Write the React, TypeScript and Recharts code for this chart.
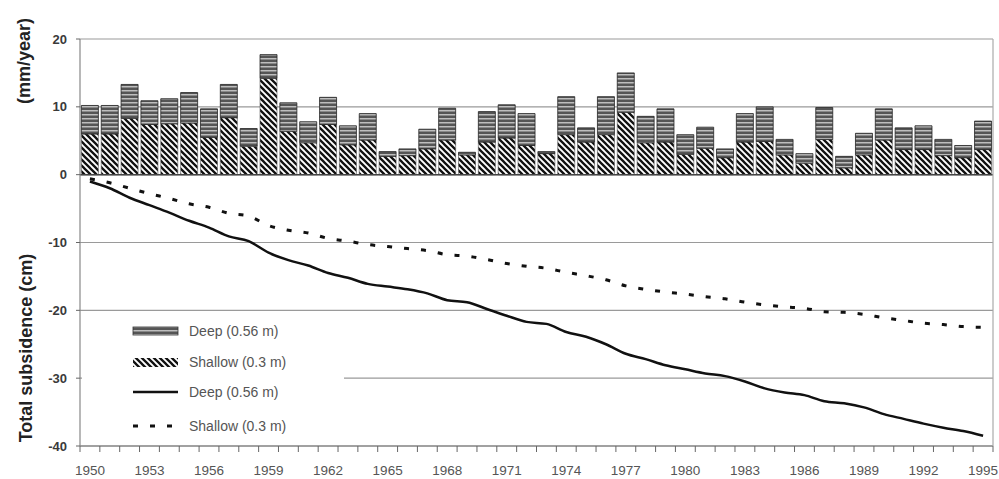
import React from 'react';
import { ComposedChart, Bar, Line, XAxis, YAxis, CartesianGrid, ReferenceLine, Legend } from 'recharts';

const years = [
  '1950', '1951', '1952', '1953', '1954', '1955', '1956', '1957', '1958', '1959',
  '1960', '1961', '1962', '1963', '1964', '1965', '1966', '1967', '1968', '1969',
  '1970', '1971', '1972', '1973', '1974', '1975', '1976', '1977', '1978', '1979',
  '1980', '1981', '1982', '1983', '1984', '1985', '1986', '1987', '1988', '1989',
  '1990', '1991', '1992', '1993', '1994', '1995',
];

// annual subsidence rate (mm/year), shallow layer (0.3 m) – lower hatched segment
const shallowRate = [
  6.0, 6.0, 8.3, 7.4, 7.5, 7.6, 5.5, 8.4, 4.2, 14.2,
  6.4, 4.7, 7.4, 4.4, 5.1, 2.7, 2.8, 3.8, 5.1, 2.9,
  4.8, 5.4, 4.3, 3.1, 5.9, 4.8, 5.9, 9.2, 4.7, 4.8,
  3.0, 3.9, 2.5, 4.8, 4.9, 2.9, 1.7, 5.2, 1.0, 2.9,
  5.1, 3.7, 3.7, 2.8, 2.5, 3.7,
];

// annual subsidence rate (mm/year), deep layer (0.56 m) – upper striped segment
const deepRate = [
  4.2, 4.2, 5.0, 3.5, 3.7, 4.5, 4.2, 4.9, 2.6, 3.5,
  4.2, 3.1, 4.0, 2.8, 3.9, 0.7, 1.0, 2.9, 4.7, 0.4,
  4.5, 4.9, 4.7, 0.3, 5.6, 2.1, 5.6, 5.8, 3.9, 4.9,
  2.9, 3.1, 1.3, 4.2, 5.1, 2.3, 1.4, 4.7, 1.7, 3.2,
  4.6, 3.2, 3.5, 2.4, 1.8, 4.2,
];

// total subsidence (cm), deep (0.56 m) – solid line
const deepTotal = [
  -1.0, -2.0, -3.4, -4.5, -5.6, -6.8, -7.8, -9.1, -9.8, -11.5,
  -12.6, -13.4, -14.5, -15.2, -16.1, -16.5, -16.9, -17.5, -18.5, -18.8,
  -19.8, -20.8, -21.7, -22.0, -23.2, -23.9, -25.0, -26.4, -27.2, -28.1,
  -28.7, -29.3, -29.7, -30.5, -31.5, -32.1, -32.5, -33.4, -33.7, -34.3,
  -35.3, -36.0, -36.7, -37.3, -37.8, -38.5,
];

// total subsidence (cm), shallow (0.3 m) – dotted line
const shallowTotal = [
  -0.6, -1.2, -2.0, -2.8, -3.5, -4.3, -4.8, -5.7, -6.1, -7.5,
  -8.2, -8.6, -9.4, -9.8, -10.3, -10.6, -10.9, -11.2, -11.8, -12.0,
  -12.5, -13.1, -13.5, -13.8, -14.4, -14.9, -15.5, -16.4, -16.9, -17.3,
  -17.6, -18.0, -18.3, -18.8, -19.2, -19.5, -19.7, -20.2, -20.3, -20.6,
  -21.1, -21.5, -21.9, -22.1, -22.4, -22.5,
];

const yTicks = [-40, -30, -20, -10, 0, 10, 20];
const labeledYears = ['1950', '1953', '1956', '1959', '1962', '1965', '1968', '1971', '1974', '1977', '1980', '1983', '1986', '1989', '1992', '1995'];

const data = years.map((year, i) => ({
  year,
  shallow: shallowRate[i],
  deep: deepRate[i],
  deepCum: deepTotal[i],
  shallowCum: shallowTotal[i],
}));

const FONT = '"Liberation Sans", Arial, Helvetica, sans-serif';
const PLOT_LEFT = 80;
const PLOT_RIGHT = 993;
const PITCH = (PLOT_RIGHT - PLOT_LEFT) / years.length;

function XTick(props: any) {
  const { x, y, payload, index } = props;
  const left = x - PITCH / 2;
  const right = x + PITCH / 2;
  const isLast = index === years.length - 1;
  return (
    <g>
      <line x1={left} y1={y} x2={left} y2={y + 6} stroke="#666" strokeWidth={1} />
      {isLast && <line x1={right} y1={y} x2={right} y2={y + 6} stroke="#666" strokeWidth={1} />}
      {labeledYears.includes(payload.value) && (
        <text x={x} y={y + 29} textAnchor="middle" fontSize={13.5} fill="#555" fontFamily={FONT}>
          {payload.value}
        </text>
      )}
    </g>
  );
}

function AxisTitles() {
  return (
    <g fontFamily={FONT} fontWeight="bold" fill="#222">
      <text x={24} y={61} transform="rotate(-90 24 61)" textAnchor="middle" dominantBaseline="central" fontSize={18}>
        (mm/year)
      </text>
      <text x={26} y={348} transform="rotate(-90 26 348)" textAnchor="middle" dominantBaseline="central" fontSize={18}>
        Total subsidence (cm)
      </text>
    </g>
  );
}

function LegendBox() {
  const txt = { fontSize: 14, fill: '#555', fontFamily: FONT } as const;
  return (
    <svg width={262} height={126} style={{ display: 'block' }}>
      <defs>
        <pattern id="lgDeep" width={4} height={4} patternUnits="userSpaceOnUse">
          <rect width={4} height={4} fill="#555" />
          <rect y={2.2} width={4} height={1.2} fill="#d8d8d8" />
        </pattern>
        <pattern id="lgShallow" width={6} height={6} patternUnits="userSpaceOnUse">
          <rect width={6} height={6} fill="#fff" />
          <path d="M-1,-1 L7,7 M-4,2 L2,8 M2,-4 L8,2" stroke="#111" strokeWidth={2.3} />
        </pattern>
      </defs>
      <rect x={51} y={11} width={45} height={8} fill="url(#lgDeep)" stroke="#333" strokeWidth={0.8} />
      <text x={107} y={15} dominantBaseline="central" {...txt}>Deep (0.56 m)</text>
      <rect x={51} y={42} width={45} height={9} fill="url(#lgShallow)" />
      <text x={107} y={46} dominantBaseline="central" {...txt}>Shallow (0.3 m)</text>
      <line x1={51} y1={76} x2={96} y2={76} stroke="#111" strokeWidth={2.5} />
      <text x={107} y={76} dominantBaseline="central" {...txt}>Deep (0.56 m)</text>
      <line x1={51} y1={110} x2={96} y2={110} stroke="#111" strokeWidth={3} strokeDasharray="5 12" />
      <text x={107} y={110} dominantBaseline="central" {...txt}>Shallow (0.3 m)</text>
    </svg>
  );
}

export default function App() {
  return (
    <div style={{ position: 'absolute', left: 0, top: 0, width: 999, height: 479, background: '#fff' }}>
      <ComposedChart
        width={999}
        height={479}
        data={data}
        margin={{ top: 39, right: 0, bottom: 0, left: 0 }}
        barCategoryGap="7%"
      >
        <defs>
          <pattern id="deepStripe" width={4} height={4} patternUnits="userSpaceOnUse">
            <rect width={4} height={4} fill="#555" />
            <rect y={2.2} width={4} height={1.2} fill="#d8d8d8" />
          </pattern>
          <pattern id="shallowHatch" width={6} height={6} patternUnits="userSpaceOnUse">
            <rect width={6} height={6} fill="#fff" />
            <path d="M-1,-1 L7,7 M-4,2 L2,8 M2,-4 L8,2" stroke="#111" strokeWidth={2.3} />
          </pattern>
        </defs>
        <CartesianGrid vertical={false} stroke="#9a9a9a" strokeWidth={1.2} />
        <XAxis
          dataKey="year"
          height={33}
          interval={0}
          tickSize={0}
          tickMargin={0}
          tickLine={false}
          axisLine={{ stroke: '#777', strokeWidth: 1.2 }}
          tick={<XTick />}
        />
        <YAxis
          width={80}
          domain={[-40, 20]}
          ticks={yTicks}
          interval={0}
          allowDataOverflow
          tickSize={4}
          tickMargin={9}
          axisLine={{ stroke: '#888', strokeWidth: 1.2 }}
          tickLine={{ stroke: '#666' }}
          tick={{ fontSize: 13, fill: '#3a3a3a', fontWeight: 600, fontFamily: FONT }}
          label={<AxisTitles />}
        />
        <YAxis
          yAxisId="right"
          orientation="right"
          width={6}
          domain={[-40, 20]}
          tick={false}
          tickLine={false}
          axisLine={{ stroke: '#aaa', strokeWidth: 1.2 }}
        />
        <Bar dataKey="shallow" stackId="rate" fill="url(#shallowHatch)" stroke="#555" strokeWidth={0.6} isAnimationActive={false} />
        <Bar dataKey="deep" stackId="rate" fill="url(#deepStripe)" stroke="#222" strokeWidth={0.8} isAnimationActive={false} />
        <ReferenceLine y={0} stroke="#444" strokeWidth={1.5} />
        <Line type="monotone" dataKey="deepCum" stroke="#111" strokeWidth={2.5} dot={false} isAnimationActive={false} />
        <Line type="monotone" dataKey="shallowCum" stroke="#111" strokeWidth={3} strokeDasharray="5 12" dot={false} isAnimationActive={false} />
        <Legend
          layout="vertical"
          align="center"
          verticalAlign="middle"
          wrapperStyle={{ left: 82, top: 316, width: 262, height: 126, background: '#fff' }}
          content={() => <LegendBox />}
        />
      </ComposedChart>
    </div>
  );
}
